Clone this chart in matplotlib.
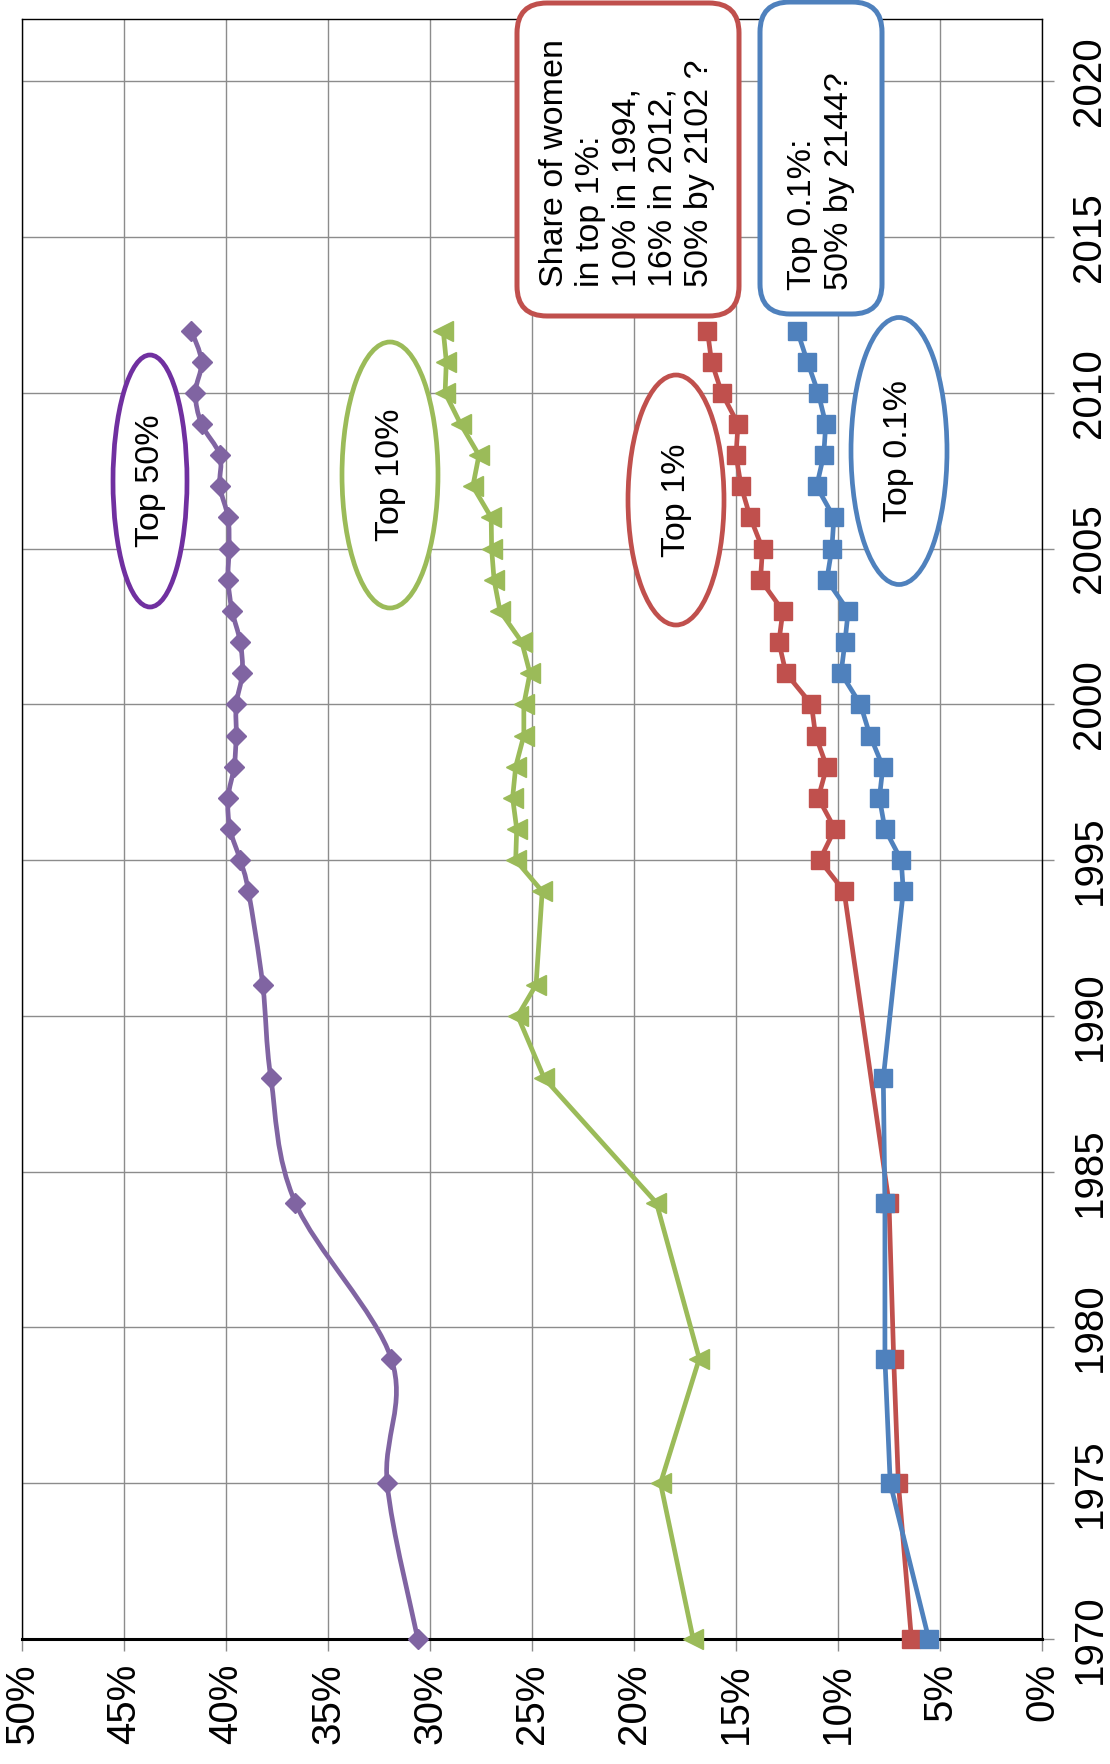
# -*- coding: utf-8 -*-
"""
Share of women in top income groups, drawn turned on its side
(years run upwards, shares run right to left).
"""

import matplotlib
matplotlib.use("Agg")
import matplotlib.patches as mpatches
import matplotlib.pyplot as plt
import matplotlib.transforms as mtransforms
import numpy as np
from matplotlib.path import Path

plt.rcParams["font.family"] = ["Liberation Sans", "DejaVu Sans"]

FIG_W = 1110
FIG_H = 1764

# --- data (share of women, %) ---
YEARS_TOP50 = [1970, 1975, 1979, 1984, 1988, 1991, 1994, 1995, 1996, 1997,
               1998, 1999, 2000, 2001, 2002, 2003, 2004, 2005, 2006, 2007,
               2008, 2009, 2010, 2011, 2012]
TOP50 = [30.6, 32.1, 31.9, 36.6, 37.8, 38.2, 38.9, 39.3, 39.8, 39.9,
         39.6, 39.5, 39.5, 39.2, 39.3, 39.7, 39.9, 39.85, 39.9, 40.3,
         40.3, 41.2, 41.5, 41.2, 41.7]

YEARS_TOP10 = [1970, 1975, 1979, 1984, 1988, 1990, 1991, 1994, 1995, 1996,
               1997, 1998, 1999, 2000, 2001, 2002, 2003, 2004, 2005, 2006,
               2007, 2008, 2009, 2010, 2011, 2012]
TOP10 = [17.1, 18.7, 16.8, 18.9, 24.4, 25.7, 24.8, 24.5, 25.8, 25.75,
         25.95, 25.8, 25.4, 25.4, 25.1, 25.5, 26.57, 26.86, 26.98, 27.0,
         27.9, 27.6, 28.5, 29.26, 29.2, 29.35]

YEARS_TOP1 = [1970, 1975, 1979, 1984, 1994, 1995, 1996, 1997, 1998, 1999,
              2000, 2001, 2002, 2003, 2004, 2005, 2006, 2007, 2008, 2009,
              2010, 2011, 2012]
TOP1 = [6.4, 7.04, 7.27, 7.5, 9.7, 10.9, 10.15, 10.97, 10.55, 11.1,
        11.3, 12.55, 12.9, 12.7, 13.8, 13.7, 14.3, 14.75, 15.0, 14.9,
        15.7, 16.2, 16.4]

YEARS_TOP01 = [1970, 1975, 1979, 1984, 1988, 1994, 1995, 1996, 1997, 1998,
               1999, 2000, 2001, 2002, 2003, 2004, 2005, 2006, 2007, 2008,
               2009, 2010, 2011, 2012]
TOP01 = [5.55, 7.44, 7.7, 7.7, 7.78, 6.8, 6.9, 7.7, 7.97, 7.8,
         8.43, 8.9, 9.85, 9.66, 9.5, 10.55, 10.3, 10.2, 11.05, 10.7,
         10.6, 10.97, 11.5, 12.0]

SHARE_TICKS = [0, 5, 10, 15, 20, 25, 30, 35, 40, 45, 50]
YEAR_TICKS = [1970, 1975, 1980, 1985, 1990, 1995, 2000, 2005, 2010, 2015, 2020]

PURPLE = "#8064A2"
PURPLE_DARK = "#7030A0"
GREEN = "#9BBB59"
RED = "#C0504D"
BLUE = "#4F81BD"
GRID = "#8c8c8c"


def smooth_path(xs, ys):
    """Excel-like smoothed line: Catmull-Rom segments as cubic Beziers."""
    pts = np.column_stack([xs, ys]).astype(float)
    verts = [pts[0]]
    codes = [Path.MOVETO]
    n = len(pts)
    for i in range(n - 1):
        p0 = pts[i - 1] if i > 0 else pts[i]
        p1 = pts[i]
        p2 = pts[i + 1]
        p3 = pts[i + 2] if i + 2 < n else pts[i + 1]
        verts += [p1 + (p2 - p0) / 6, p2 - (p3 - p1) / 6, p2]
        codes += [Path.CURVE4] * 3
    return Path(verts, codes)


def px(x, y):
    """Pixel position measured from the top-left corner -> display coords."""
    return x, FIG_H - y


fig = plt.figure(figsize=(FIG_W / 100, FIG_H / 100), dpi=100)
ax = fig.add_axes([22 / FIG_W, 1 - 1639 / FIG_H, 1020 / FIG_W, 1620 / FIG_H])

ax.set_xlim(50, 0)
ax.set_ylim(1970, 2022)
ax.set_axisbelow(True)
ax.grid(True, color=GRID, linewidth=1.0)

ax.set_xticks(SHARE_TICKS)
ax.set_xticklabels([f"{v}%" for v in SHARE_TICKS], rotation=90)
ax.yaxis.tick_right()
ax.set_yticks(YEAR_TICKS)
ax.set_yticklabels([str(v) for v in YEAR_TICKS], rotation=90, va="center")
ax.tick_params(axis="both", length=8.5, width=1.0, color=GRID,
               labelsize=29, direction="out")
ax.tick_params(axis="x", pad=9)
ax.tick_params(axis="y", pad=12)

for side in ["top", "left", "right"]:
    ax.spines[side].set_linewidth(1.0)
    ax.spines[side].set_color("black")
ax.spines["bottom"].set_linewidth(2.2)
ax.spines["bottom"].set_color("black")

# top 50%: smoothed line
ax.add_patch(mpatches.PathPatch(smooth_path(TOP50, YEARS_TOP50), fill=False,
                                edgecolor=PURPLE, linewidth=3.4, zorder=3,
                                clip_on=False))
ax.plot(TOP50, YEARS_TOP50, linestyle="none", marker="D", markersize=10.5,
        color=PURPLE, zorder=4, clip_on=False)

ax.plot(TOP10, YEARS_TOP10, color=GREEN, linewidth=3.4, marker="<",
        markersize=14, zorder=4, clip_on=False)
ax.plot(TOP1, YEARS_TOP1, color=RED, linewidth=3.4, marker="s",
        markersize=13.5, zorder=4, clip_on=False)
ax.plot(TOP01, YEARS_TOP01, color=BLUE, linewidth=3.4, marker="s",
        markersize=13.5, zorder=4, clip_on=False)

ident = mtransforms.IdentityTransform()

# series labels in white ellipses
ellipses = [
    ("Top 50%", (150, 481), 74, 252, PURPLE_DARK),
    ("Top 10%", (390, 475), 96, 266, GREEN),
    ("Top 1%", (676, 500), 96, 250, RED),
    ("Top 0.1%", (899, 451), 96, 267, BLUE),
]
for label, (cx, cy), w, h, color in ellipses:
    fig.add_artist(mpatches.Ellipse(px(cx, cy), w, h, transform=ident,
                                    facecolor="white", edgecolor=color,
                                    linewidth=3.4, zorder=5))
    fig.text(*px(cx, cy), label, transform=ident, rotation=90,
             ha="center", va="center", fontsize=24.5, zorder=6)

# rounded call-out boxes
boxes = [
    ("Share of women\nin top 1%:\n10% in 1994,\n16% in 2012,\n50% by 2102 ?",
     (517, 3, 739, 316), (627, 287), RED),
    ("Top 0.1%:\n50% by 2144?", (760, 2, 882, 314), (821, 290), BLUE),
]
for label, (x0, y0, x1, y1), (tx, ty), color in boxes:
    fig.add_artist(mpatches.FancyBboxPatch(
        px(x0, y1), x1 - x0, y1 - y0, transform=ident,
        boxstyle="round,pad=0,rounding_size=30", facecolor="white",
        edgecolor=color, linewidth=3.6, zorder=5))
    fig.text(*px(tx, ty), label, transform=ident, rotation=90,
             ha="center", va="bottom", multialignment="left",
             fontsize=24.5, linespacing=1.22, zorder=6)

fig.savefig("out.png", dpi=100)
